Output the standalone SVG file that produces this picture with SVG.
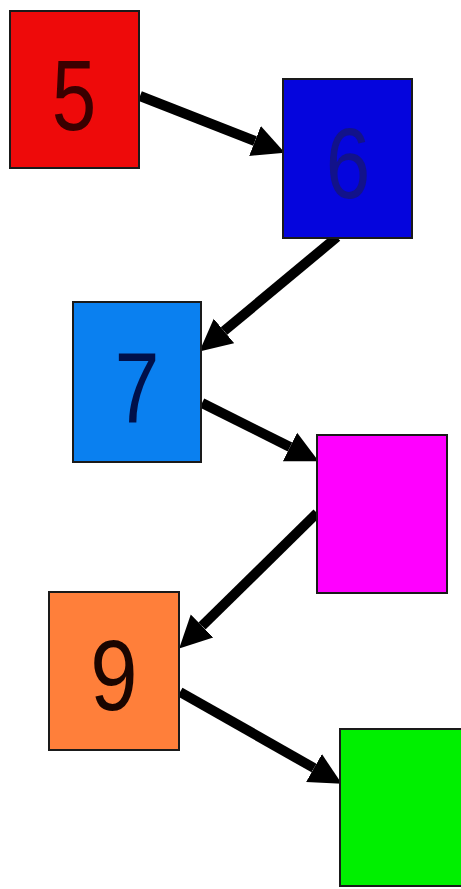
<svg xmlns="http://www.w3.org/2000/svg" width="461" height="889" viewBox="0 0 461 889">
<style>
.box{stroke:#1a1a1a;stroke-width:2}
.lbl{font-family:"Liberation Sans",Arial,sans-serif;font-size:100px;text-anchor:middle}
.con{stroke:#000;stroke-width:10;fill:none}
</style>
<defs>
<marker id="ah" markerUnits="userSpaceOnUse" viewBox="0 -17 32 34" refX="0" refY="0" markerWidth="32" markerHeight="34" orient="auto">
<path d="M0,-16 L32,0 L0,16 z" fill="#000"/>
</marker>
</defs>
<rect width="461" height="889" fill="#fff"/>
<g id="connectors">
<line class="con" x1="140" y1="96" x2="255" y2="141" marker-end="url(#ah)"/>
<line class="con" x1="337" y1="237" x2="224" y2="331" marker-end="url(#ah)"/>
<line class="con" x1="202" y1="403" x2="290" y2="447" marker-end="url(#ah)"/>
<line class="con" x1="317" y1="513" x2="202" y2="626" marker-end="url(#ah)"/>
<line class="con" x1="180" y1="692" x2="314" y2="768" marker-end="url(#ah)"/>
</g>
<g id="n5">
<rect class="box" x="10" y="11" width="129" height="157" fill="#ee0a0a"/>
<text class="lbl" transform="translate(74,130) scale(0.8,1)" fill="#3a0000">5</text>
</g>
<g id="n6">
<rect class="box" x="283" y="79" width="129" height="159" fill="#0505dd"/>
<text class="lbl" transform="translate(348,198) scale(0.8,1)" fill="#12128a">6</text>
</g>
<g id="n7">
<rect class="box" x="73" y="302" width="128" height="160" fill="#0a80f0"/>
<text class="lbl" transform="translate(137,423) scale(0.8,1)" fill="#00104a">7</text>
</g>
<g id="n8">
<rect class="box" x="317" y="435" width="130" height="158" fill="#ff00ff"/>
</g>
<g id="n9">
<rect class="box" x="49" y="592" width="130" height="158" fill="#ff7f3a"/>
<text class="lbl" transform="translate(114,710) scale(0.85,1)" fill="#1a0500">9</text>
</g>
<g id="n10">
<rect class="box" x="340" y="729" width="125" height="157" fill="#00f000"/>
</g>
</svg>
